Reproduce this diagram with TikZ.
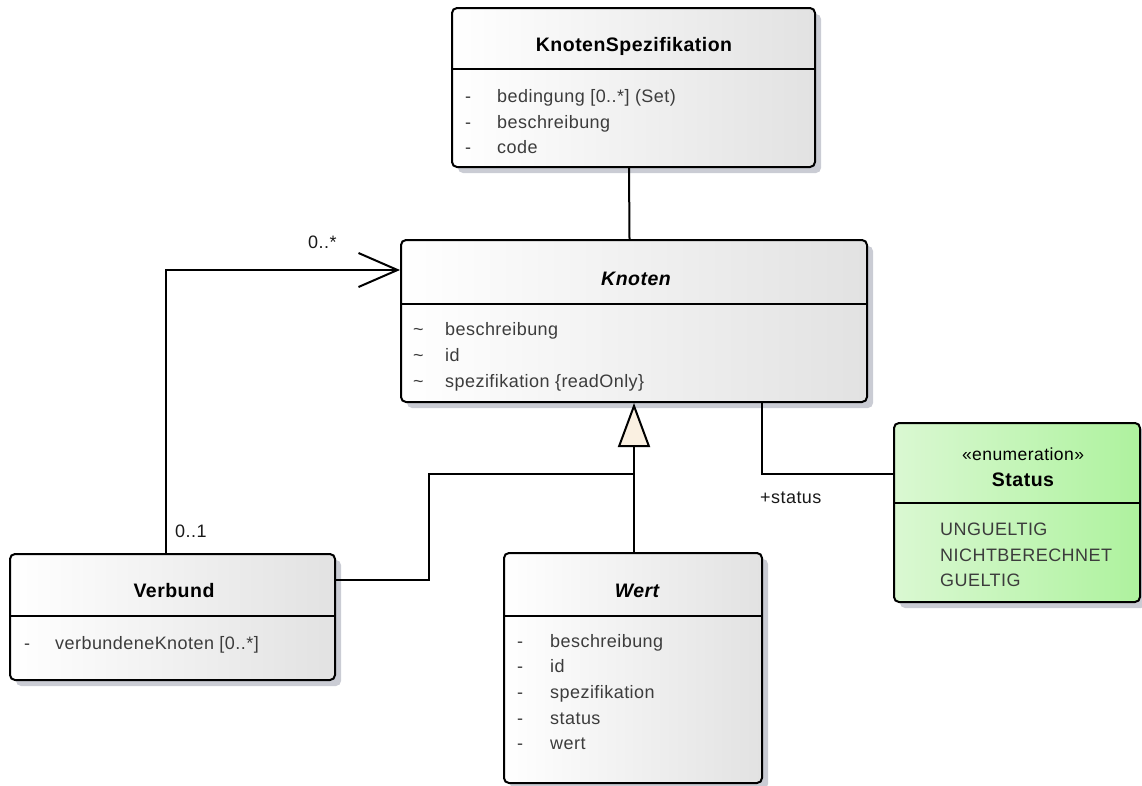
\documentclass[tikz,border=0pt]{standalone}
\usepackage{fontspec}
\setmainfont{Liberation Sans}[LetterSpace=2.5]
\usetikzlibrary{arrows.meta,shadows}
\definecolor{boxgray}{HTML}{E2E2E2}
\definecolor{shadowgray}{HTML}{CACCD4}
\definecolor{attrgray}{HTML}{3C3C3C}
\definecolor{enumleft}{HTML}{DAF8D2}
\definecolor{enumright}{HTML}{AEF29E}
\definecolor{genfill}{HTML}{FAF0E1}
\begin{document}
\begin{tikzpicture}[x=1pt,y=-1pt,
  cls/.style={draw=black, line width=2pt, rounded corners=5pt, left color=white, right color=boxgray,
    drop shadow={shadow xshift=6pt, shadow yshift=-6pt, fill=shadowgray, opacity=1}, inner sep=0pt},
  enumcls/.style={cls, left color=enumleft, right color=enumright},
  sepline/.style={line width=2pt},
  attr/.style={anchor=base west, inner sep=0pt, text=attrgray, font=\fontsize{18}{21}\selectfont},
  hdr/.style={anchor=base, inner sep=0pt, font=\fontsize{19.5}{23}\selectfont\bfseries},
  hdri/.style={hdr, font=\fontsize{19.5}{23}\selectfont\bfseries\itshape},
  lbl/.style={anchor=base west, inner sep=0pt, text=black!90, font=\fontsize{18}{21}\selectfont},
  conn/.style={line width=2pt, draw=black}
]
\useasboundingbox (0,0) rectangle (1142,785);

% class boxes
\node[cls, minimum width=363pt, minimum height=159pt] (kspec) at (633.5,87.5) {};
\node[cls, minimum width=466pt, minimum height=162pt] (knoten) at (634,321) {};
\node[enumcls, minimum width=246pt, minimum height=179pt] (status) at (1017,512.5) {};
\node[cls, minimum width=325pt, minimum height=126pt] (verbund) at (172.5,617) {};
\node[cls, minimum width=258pt, minimum height=230pt] (wert) at (633,668) {};

% separators
\draw[sepline] (kspec.west |- 0,69) -- (kspec.east |- 0,69);
\draw[sepline] (knoten.west |- 0,304) -- (knoten.east |- 0,304);
\draw[sepline] (status.west |- 0,503) -- (status.east |- 0,503);
\draw[sepline] (verbund.west |- 0,616) -- (verbund.east |- 0,616);
\draw[sepline] (wert.west |- 0,616) -- (wert.east |- 0,616);

% KnotenSpezifikation
\node[hdr] (kspech) at (634,51) {KnotenSpezifikation};
\node[attr] (ks1m) at (465,102) {-};
\node[attr] (ks1) at (497,102) {bedingung [0..*] (Set)};
\node[attr] (ks2m) at (465,128) {-};
\node[attr] (ks2) at (497,128) {beschreibung};
\node[attr] (ks3m) at (465,153) {-};
\node[attr] (ks3) at (497,153) {code};

% Knoten
\node[hdri] (knotenh) at (636,285) {Knoten};
\node[attr] (kn1m) at (413,335) {\char"007E};
\node[attr] (kn1) at (445,335) {beschreibung};
\node[attr] (kn2m) at (413,361) {\char"007E};
\node[attr] (kn2) at (445,361) {id};
\node[attr] (kn3m) at (413,387) {\char"007E};
\node[attr] (kn3) at (445,387) {spezifikation \{readOnly\}};

% Status
\node[anchor=base, inner sep=0pt, font=\fontsize{17.5}{20}\selectfont] (stst) at (1023,460) {«enumeration»};
\node[hdr] (sth) at (1023,486) {Status};
\node[attr] (st1) at (940,535) {UNGUELTIG};
\node[attr] (st2) at (940,561) {NICHTBERECHNET};
\node[attr] (st3) at (940,586) {GUELTIG};

% Verbund
\node[hdr] (verbundh) at (174,597) {Verbund};
\node[attr] (vb1m) at (24,649) {-};
\node[attr] (vb1) at (55,649) {verbundeneKnoten [0..*]};

% Wert
\node[hdri] (werth) at (637,597) {Wert};
\node[attr] (w1m) at (517,647) {-};
\node[attr] (w1) at (550,647) {beschreibung};
\node[attr] (w2m) at (517,672) {-};
\node[attr] (w2) at (550,672) {id};
\node[attr] (w3m) at (517,698) {-};
\node[attr] (w3) at (550,698) {spezifikation};
\node[attr] (w4m) at (517,724) {-};
\node[attr] (w4) at (550,724) {status};
\node[attr] (w5m) at (517,749) {-};
\node[attr] (w5) at (550,749) {wert};

% connectors
\draw[conn] ([xshift=-4.5pt]kspec.south) -- ([xshift=-4.5pt]knoten.north);

\draw[conn, -{Straight Barb[length=39pt, width=34pt, line width=2pt]}]
  ([xshift=-6.5pt]verbund.north) |- ([yshift=51pt]knoten.west);
\node[lbl] (mult1) at (308,248) {0..*};
\node[lbl] (mult2) at (175,537) {0..1};

\coordinate (gjoin) at (634,474);
\coordinate (gbend) at (429,474);
\draw[conn] ([yshift=37pt]verbund.east) -| (gbend) -- (gjoin);
\draw[conn, -{Triangle[length=44pt, width=32pt, open, fill=genfill, line width=2pt]}]
  ([xshift=1pt]wert.north) -- (knoten.south);

\draw[conn] ([xshift=128pt]knoten.south) |- ([yshift=38.5pt]status.west);
\node[lbl] (rolestatus) at (760,503) {+status};
\end{tikzpicture}
\end{document}
